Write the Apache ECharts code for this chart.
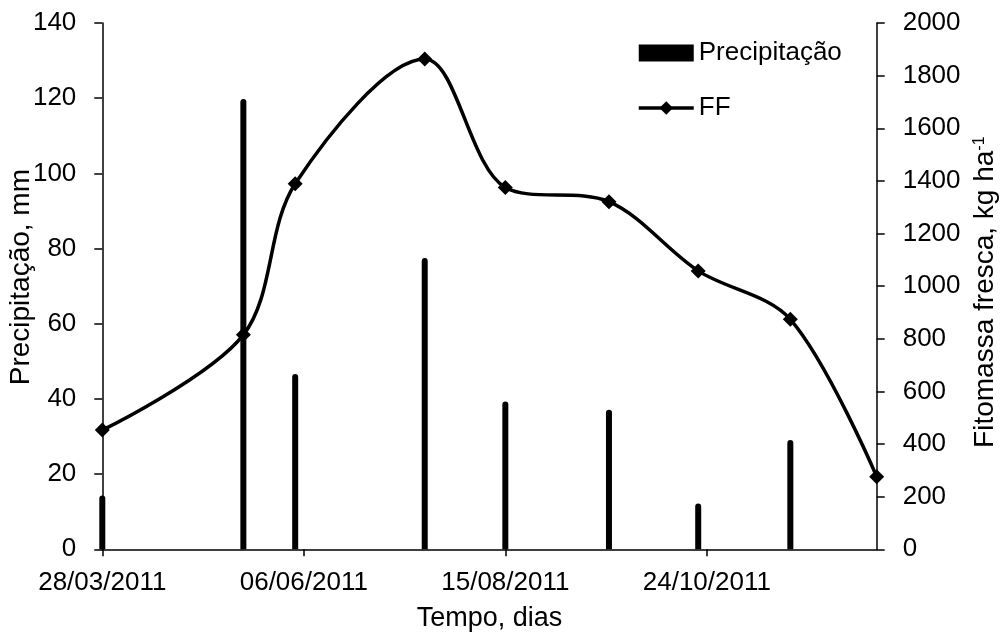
<!DOCTYPE html>
<html>
<head>
<meta charset="utf-8">
<script src="https://cdn.jsdelivr.net/npm/echarts@6/dist/echarts.min.js"></script>
<style>
html,body{margin:0;padding:0;background:#fff;}
#chart{width:1002px;height:636px;}
</style>
</head>
<body>
<div id="chart"></div>
<script>
// ---- data ----
const precipDates = ['28/03/2011','16/05/2011','03/06/2011','18/07/2011','15/08/2011','20/09/2011','21/10/2011','22/11/2011'];
const precipitacao = [14.3, 119.8, 46.6, 77.5, 39.3, 37.1, 12.2, 29.1];
const ffDates = ['28/03/2011','16/05/2011','03/06/2011','18/07/2011','15/08/2011','20/09/2011','21/10/2011','22/11/2011','22/12/2011'];
const ff = [453, 815, 1389, 1863, 1375, 1321, 1058, 874, 276];
const xTickLabels = ['28/03/2011','06/06/2011','15/08/2011','24/10/2011'];
const xAxisStart = '28/03/2011';
const xAxisEnd = '22/12/2011';

// ---- helpers ----
function toDay(s){
  const p = s.split('/');
  return Date.UTC(+p[2], +p[1]-1, +p[0]);
}
const t0 = toDay(xAxisStart);
function dayOffset(s){ return Math.round((toDay(s) - t0) / 86400000); }
const tickDays = xTickLabels.map(dayOffset);
const tickLabelMap = {};
tickDays.forEach((d,i)=>{ tickLabelMap[d] = xTickLabels[i]; });

const FONT = "'Liberation Sans', Arial, sans-serif";

const chart = echarts.init(document.getElementById('chart'), null, {renderer:'canvas'});
chart.setOption({
  animation: false,
  backgroundColor: '#ffffff',
  textStyle: { fontFamily: FONT, color: '#000' },
  grid: { left: 102.3, right: 125.3, top: 23, bottom: 86.7, outerBoundsMode: 'none', containLabel: false },
  legend: {
    orient: 'vertical',
    left: 637, top: 40,
    padding: 0,
    itemWidth: 55, itemHeight: 17, itemGap: 29,
    textStyle: { fontFamily: FONT, fontSize: 26, color: '#000' },
    lineStyle: { width: 3.5, color: '#000' },
    data: [
      { name: 'Precipitação', icon: 'rect' },
      { name: 'FF' }
    ]
  },
  xAxis: {
    type: 'value',
    min: 0,
    max: dayOffset(xAxisEnd),
    interval: 70,
    name: 'Tempo, dias',
    nameLocation: 'middle',
    nameGap: 56,
    nameMoveOverlap: false,
    nameTextStyle: { fontFamily: FONT, fontSize: 27, color: '#000' },
    axisLine: { show: true, onZero: false, lineStyle: { color: '#000', width: 1.5 } },
    axisTick: { show: true, inside: false, length: 7, customValues: tickDays, lineStyle: { color: '#000', width: 1.5 } },
    axisLabel: {
      customValues: tickDays,
      margin: 21,
      fontFamily: FONT, fontSize: 26, color: '#000',
      formatter: v => tickLabelMap[Math.round(v)] || ''
    },
    splitLine: { show: false }
  },
  yAxis: [
    {
      type: 'value', min: 0, max: 140, interval: 20,
      position: 'left',
      name: 'Precipitação, mm',
      nameLocation: 'middle',
      nameGap: 67,
      nameMoveOverlap: false,
      nameTextStyle: { fontFamily: FONT, fontSize: 28, color: '#000', padding: [0,0,0,18] },
      axisLine: { show: true, lineStyle: { color: '#000', width: 1.5 } },
      axisTick: { show: true, inside: false, length: 8, lineStyle: { color: '#000', width: 1.5 } },
      axisLabel: { margin: 26, fontFamily: FONT, fontSize: 26, color: '#000', formatter: v => String(v) },
      splitLine: { show: false }
    },
    {
      type: 'value', min: 0, max: 2000, interval: 200,
      position: 'right',
      name: 'Fitomassa fresca, kg ha{sup|-1}',
      nameLocation: 'middle',
      nameGap: 95,
      nameMoveOverlap: false,
      nameTextStyle: {
        fontFamily: FONT, fontSize: 28, color: '#000', padding: [0,12,0,0],
        rich: { sup: { fontFamily: FONT, fontSize: 16, color: '#000', verticalAlign: 'top', lineHeight: 28 } }
      },
      axisLine: { show: true, lineStyle: { color: '#000', width: 1.5 } },
      axisTick: { show: true, inside: false, length: 8, lineStyle: { color: '#000', width: 1.5 } },
      axisLabel: { margin: 26, fontFamily: FONT, fontSize: 26, color: '#000', formatter: v => String(v) },
      splitLine: { show: false }
    }
  ],
  series: [
    {
      name: 'Precipitação',
      type: 'bar',
      yAxisIndex: 0,
      barWidth: 6,
      itemStyle: { color: '#000', borderRadius: [3,3,0,0] },
      data: precipDates.map((d,i)=>[dayOffset(d), precipitacao[i]])
    },
    {
      name: 'FF',
      type: 'line',
      yAxisIndex: 1,
      smooth: 0.33,
      symbol: 'diamond',
      symbolSize: 15,
      showAllSymbol: true,
      clip: false,
      itemStyle: { color: '#000' },
      lineStyle: { color: '#000', width: 3.5 },
      data: ffDates.map((d,i)=>[dayOffset(d), ff[i]])
    }
  ]
});
</script>
</body>
</html>
